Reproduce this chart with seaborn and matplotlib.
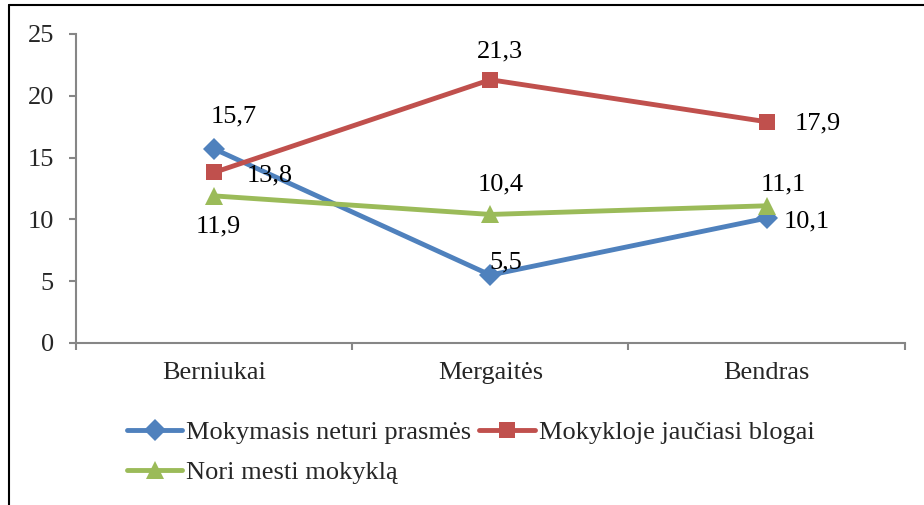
import pandas as pd
import matplotlib.pyplot as plt
import seaborn as sns
from matplotlib.lines import Line2D

# categories and series values
groups = ['Berniukai', 'Mergaitės', 'Bendras']
series_names = ['Mokymasis neturi prasmės', 'Mokykloje jaučiasi blogai', 'Nori mesti mokyklą']
neturi_prasmes = [15.7, 5.5, 10.1]
jauciasi_blogai = [13.8, 21.3, 17.9]
nori_mesti = [11.9, 10.4, 11.1]
y_ticks = [0, 5, 10, 15, 20, 25]

colors = ['#4F81BD', '#C0504D', '#9BBB59']
markers = ['D', 's', '^']
msizes = [11, 12, 13]

# label offsets in pixels, per series / group
label_offsets = [
    [(20, 32), (15, 13), (40, -3)],
    [(56, -3), (10, 28), (51, -2)],
    [(4, -31), (10, 30), (17, 21)],
]

df = pd.DataFrame({
    'group': groups * 3,
    'series': [s for s in series_names for _ in groups],
    'value': neturi_prasmes + jauciasi_blogai + nori_mesti,
})

sns.set_style('white')
plt.rcParams['font.family'] = ['Liberation Serif', 'DejaVu Serif']

fig = plt.figure(figsize=(9.24, 5.05), dpi=100)
ax = fig.add_axes([0.0823, 0.3208, 0.8967, 0.6119])

for i, name in enumerate(series_names):
    sub = df[df['series'] == name]
    sns.lineplot(data=sub, x='group', y='value', ax=ax, color=colors[i],
                 linewidth=3.5, marker=markers[i], markersize=msizes[i],
                 markeredgewidth=0, label=name, sort=False)
    for j, v in enumerate(sub['value']):
        dx, dy = label_offsets[i][j]
        ax.annotate(f'{v:.1f}'.replace('.', ','), (j, v), xytext=(dx, dy),
                    textcoords='offset pixels', ha='center', va='center',
                    fontsize=19, color='black')

ax.set_xlim(-0.5, 2.5)
ax.set_ylim(0, 25)
ax.set_yticks(y_ticks)
ax.set_xticks(range(len(groups)))
ax.set_xticklabels(groups)
ax.set_xticks([-0.5, 0.5, 1.5, 2.5], minor=True)
ax.set_xlabel('')
ax.set_ylabel('')

gray = '#868686'
for side in ['top', 'right']:
    ax.spines[side].set_visible(False)
for side in ['left', 'bottom']:
    ax.spines[side].set_color(gray)
    ax.spines[side].set_linewidth(1.5)

ax.tick_params(axis='y', which='major', length=5, width=1.5, color=gray,
               direction='out', left=True, pad=11, labelsize=19)
ax.tick_params(axis='x', which='major', length=0, pad=14, labelsize=19)
ax.tick_params(axis='x', which='minor', length=5, width=1.5, color=gray,
               direction='out', bottom=True)

# legend fills row by row: reorder for the column-wise layout
handles, labels = ax.get_legend_handles_labels()
order = [0, 2, 1]
ax.legend([handles[k] for k in order], [labels[k] for k in order], ncol=2,
          frameon=False, fontsize=19,
          loc='upper left', bbox_to_anchor=(127 / 924, 1 - 421 / 505),
          bbox_transform=fig.transFigure, borderaxespad=0, borderpad=0,
          handlelength=2.1, handletextpad=0.15, columnspacing=0.3,
          labelspacing=0.6)

# chart frame (left and top edges show in the crop)
fig.add_artist(Line2D([9 / 924, 9 / 924], [0, 1 - 5 / 505], color='black',
                      linewidth=1.5, transform=fig.transFigure))
fig.add_artist(Line2D([9 / 924, 1], [1 - 5 / 505, 1 - 5 / 505], color='black',
                      linewidth=1.5, transform=fig.transFigure))

plt.savefig('out.png', dpi=100)
